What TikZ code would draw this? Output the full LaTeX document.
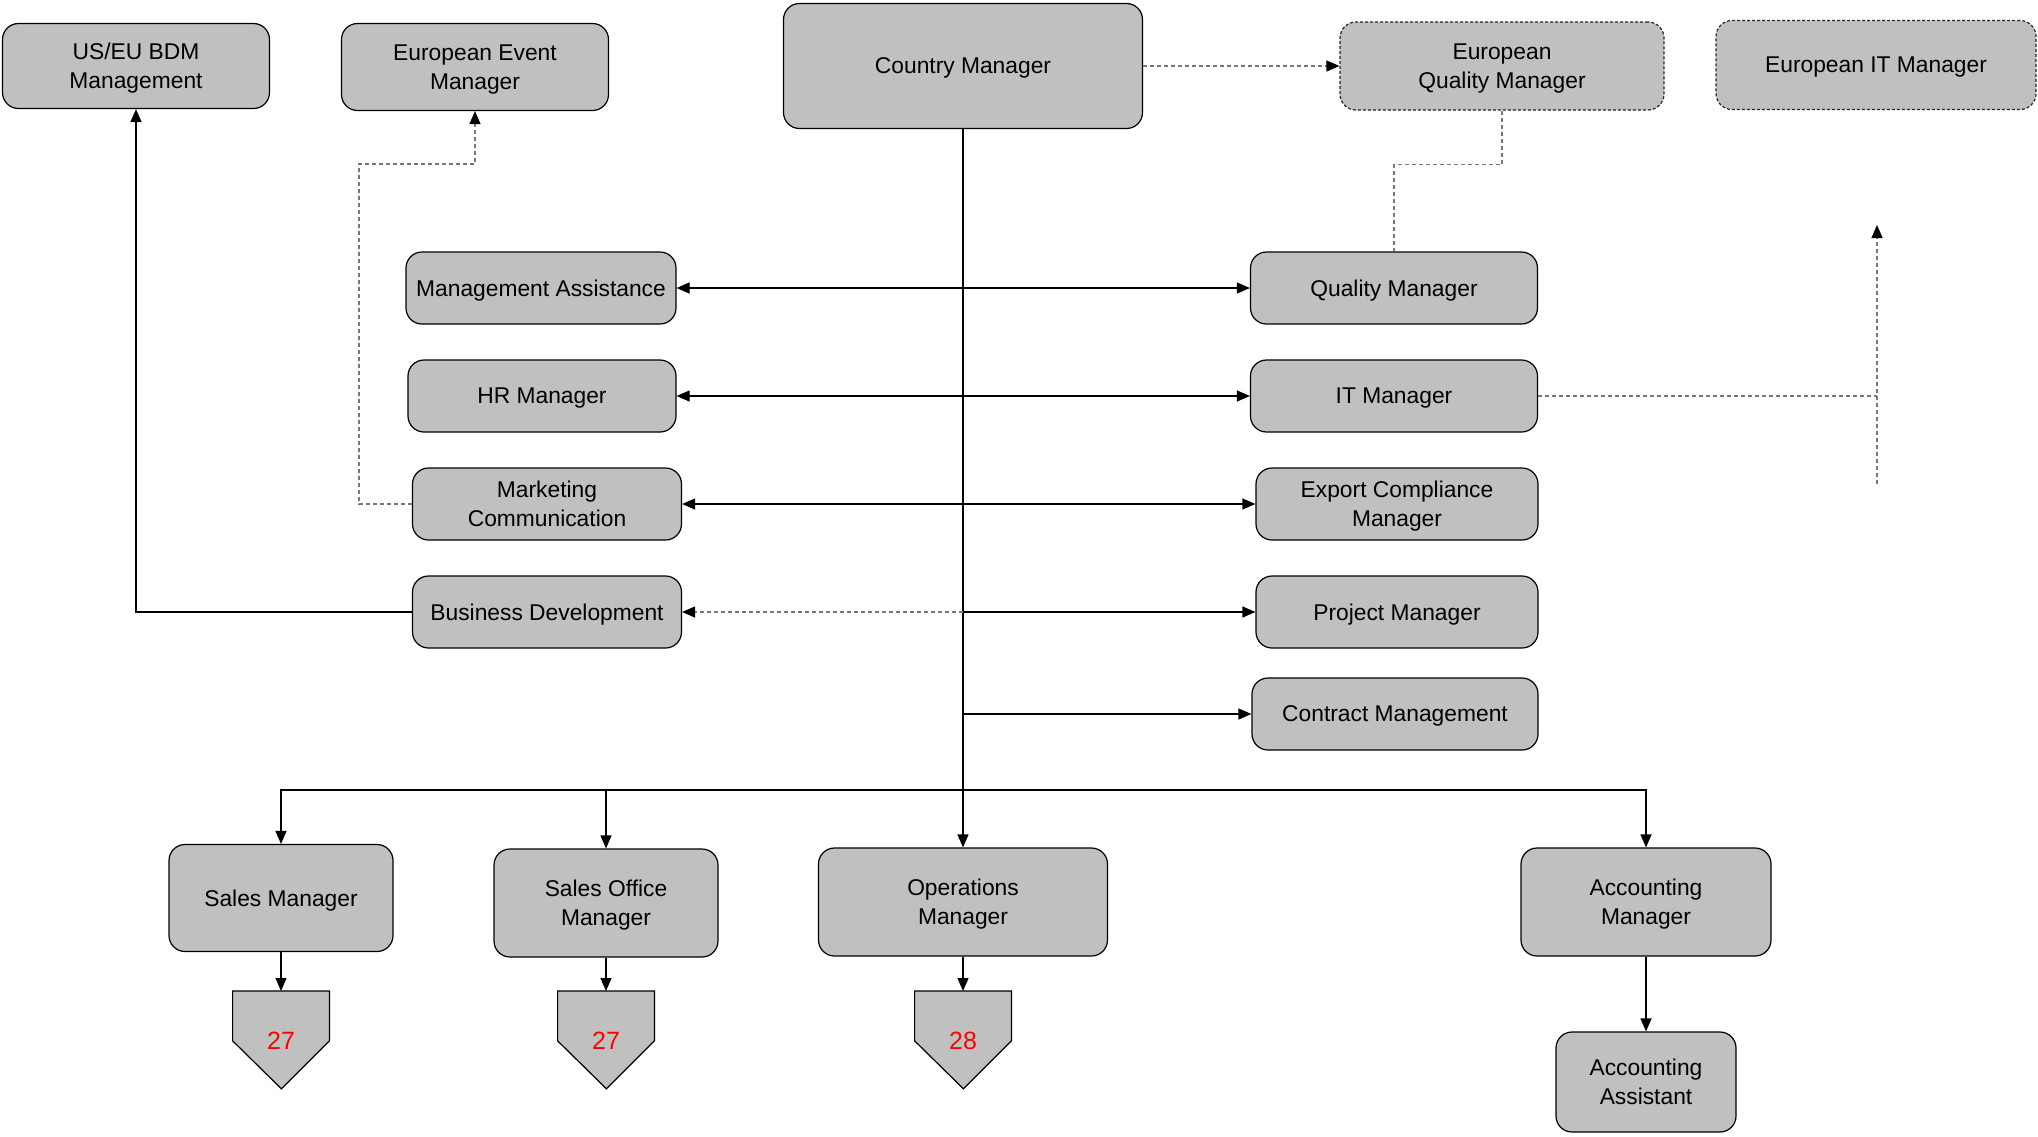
\documentclass[tikz,border=0pt]{standalone}
\usepackage{fontspec}
\setmainfont{Liberation Sans}
\usetikzlibrary{arrows.meta}

\definecolor{boxgray}{RGB}{192,192,192}
\definecolor{linegray}{RGB}{120,120,120}

\begin{document}
\begin{tikzpicture}[x=0.5pt,y=-0.5pt]

% Box styles
\tikzset{
    box/.style={draw, fill=boxgray, rounded corners=8pt, align=center, text depth=0pt,
        line width=0.6pt, inner sep=2pt, font=\fontsize{11.4}{14.3}\selectfont},
    extbox/.style={box, draw=black!85, dash pattern=on 1.5pt off 1pt},
    line/.style={line width=0.6pt},
    link/.style={line, -{Triangle[length=6.5pt,width=5.5pt,color=black]}},
    dotline/.style={line, draw=linegray, dash pattern=on 2pt off 1.5pt},
    dotlink/.style={link, draw=linegray, dash pattern=on 2pt off 1.5pt},
    offpage/.style={draw, fill=boxgray, line width=0.6pt}
}

\useasboundingbox (0,0) rectangle (2038,1136);

% Top row
\node[box, minimum width=133.5pt, minimum height=42.5pt] (bdm) at (136,66) {US/EU BDM\\Management};
\node[box, minimum width=133.5pt, minimum height=43.5pt] (event) at (475,67) {European Event\\Manager};
\node[box, minimum width=179.5pt, minimum height=62.5pt] (country) at (963,66) {Country Manager};
\node[extbox, minimum width=162pt, minimum height=44pt] (euqm) at (1502,66) {European\\Quality Manager};
\node[extbox, minimum width=160pt, minimum height=44.5pt] (euit) at (1876,65) {European IT Manager};

% Staff, left
\node[box, minimum width=135pt, minimum height=36pt] (ma) at (541,288) {Management Assistance};
\node[box, minimum width=134pt, minimum height=36pt] (hr) at (542,396) {HR Manager};
\node[box, minimum width=134.5pt, minimum height=36pt] (mc) at (547,504) {Marketing\\Communication};
\node[box, minimum width=134.5pt, minimum height=36pt] (bd) at (547,612) {Business Development};

% Staff, right
\node[box, minimum width=143.5pt, minimum height=36pt] (qm) at (1394,288) {Quality Manager};
\node[box, minimum width=143.5pt, minimum height=36pt] (itm) at (1394,396) {IT Manager};
\node[box, minimum width=141pt, minimum height=36pt] (ecm) at (1397,504) {Export Compliance\\Manager};
\node[box, minimum width=141pt, minimum height=36pt] (pm) at (1397,612) {Project Manager};
\node[box, minimum width=143pt, minimum height=36pt] (cm) at (1395,714) {Contract Management};

% Bottom row
\node[box, minimum width=112pt, minimum height=53.5pt] (sm) at (281,898) {Sales Manager};
\node[box, minimum width=112pt, minimum height=54pt] (som) at (606,903) {Sales Office\\Manager};
\node[box, minimum width=144.5pt, minimum height=54pt] (om) at (963,902) {Operations\\Manager};
\node[box, minimum width=125pt, minimum height=54pt] (am) at (1646,902) {Accounting\\Manager};
\node[box, minimum width=90pt, minimum height=50pt] (aa) at (1646,1082) {Accounting\\Assistant};

% Off-page connectors
\foreach \n/\x/\num in {1/281/27, 2/606/27, 3/963/28}{
    \node[minimum width=48pt, minimum height=24.5pt, inner sep=0pt, anchor=north] (off\n) at (\x,991) {};
    \draw[offpage] (off\n.north west) -- (off\n.north east) -- (off\n.south east)
        -- ++(-48,48) -- (off\n.south west) -- cycle;
    \node[text=red, font=\fontsize{12.5}{15}\selectfont] (num\n) at (off\n.south) {\num};
}

% Trunk and bus
\coordinate (bus) at (963,790);
\draw[line] (country.south) -- (bus);
\draw[link] (bus) -| (sm.north);
\draw[link] (bus) -| (som.north);
\draw[link] (bus) -- (om.north);
\draw[link] (bus) -| (am.north);

\draw[link] (sm.south) -- (off1.north);
\draw[link] (som.south) -- (off2.north);
\draw[link] (om.south) -- (off3.north);
\draw[link] (am.south) -- (aa.north);

% Staff links
\draw[link] (country.south |- ma.east) -- (ma.east);
\draw[link] (country.south |- hr.east) -- (hr.east);
\draw[link] (country.south |- mc.east) -- (mc.east);
\draw[dotlink] (country.south |- bd.east) -- (bd.east);
\draw[link] (country.south |- qm.west) -- (qm.west);
\draw[link] (country.south |- itm.west) -- (itm.west);
\draw[link] (country.south |- ecm.west) -- (ecm.west);
\draw[link] (country.south |- pm.west) -- (pm.west);
\draw[link] (country.south |- cm.west) -- (cm.west);

% European links
\coordinate (mcbend) at (359,164);
\coordinate (itlow) at (1877,484);
\coordinate (ittop) at (1877,225);
\draw[dotlink] (country.east) -- (euqm.west);
\draw[dotline] (euqm.south) -- ++(0,54) -| (qm.north);
\draw[dotlink] (mc.west) -| (mcbend) -| (event.south);
\draw[link] (bd.west) -| (bdm.south);
\draw[dotline] (itm.east) -- (itm.east -| itlow);
\draw[dotlink] (itlow) -- (ittop);

\end{tikzpicture}
\end{document}
